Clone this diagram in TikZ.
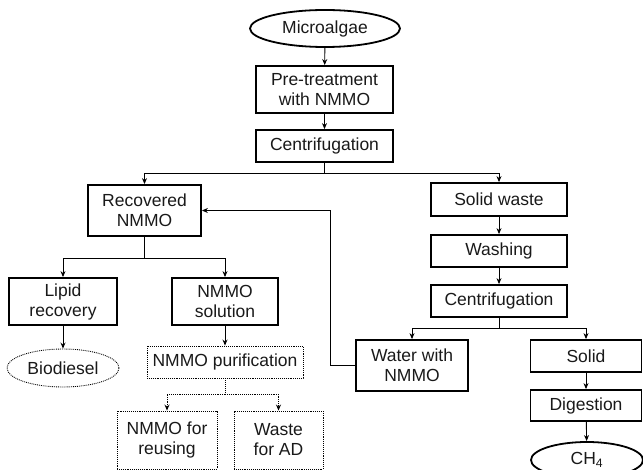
\documentclass[tikz,border=0pt]{standalone}
\usepackage{fontspec}
\setmainfont{Liberation Sans}
\usetikzlibrary{shapes.geometric,arrows.meta}
\begin{document}
\begin{tikzpicture}[x=1pt,y=-1pt,
  every node/.style={font=\fontsize{17.5}{20}\selectfont, align=center, inner sep=0pt, text=black!90},
  box/.style={draw, line width=1.8pt, rectangle},
  dbox/.style={draw, line width=0.9pt, densely dotted, rectangle},
  oval/.style={draw, line width=1.8pt, ellipse},
  doval/.style={draw, line width=0.9pt, densely dotted, ellipse},
  arr/.style={line width=0.9pt, -{Stealth[length=6pt,width=5pt]}},
  darr/.style={line width=0.9pt, densely dotted, -{Stealth[length=6pt,width=5pt]}},
  ln/.style={line width=0.9pt}]
\useasboundingbox (0,0) rectangle (643,470);
\clip (0,0) rectangle (643,470);
% nodes
\node[oval, minimum width=150pt, minimum height=37pt] (micro) at (325,28.5) {Microalgae};
\node[box, minimum width=137pt, minimum height=47pt] (pre) at (324.5,89.5) {Pre-treatment\\with NMMO};
\node[box, minimum width=137pt, minimum height=32pt] (cent1) at (324.5,146) {Centrifugation};
\node[box, minimum width=113pt, minimum height=51pt] (recov) at (144.5,210.5) {Recovered\\NMMO};
\node[box, minimum width=136pt, minimum height=33pt] (solidw) at (499,199.5) {Solid waste};
\node[box, minimum width=136pt, minimum height=32pt] (wash) at (499,251) {Washing};
\node[box, minimum width=136pt, minimum height=32pt] (cent2) at (499,301) {Centrifugation};
\node[box, minimum width=112pt, minimum height=51pt] (water) at (412,365.5) {Water with\\NMMO};
\node[box, minimum width=111pt, minimum height=32pt] (solid) at (586,356) {Solid};
\node[box, minimum width=111pt, minimum height=31pt] (dig) at (586,405.5) {Digestion};
\node[oval, minimum width=112pt, minimum height=36pt] (ch4) at (587,460) {CH\textsubscript{4}};
\node[box, minimum width=108pt, minimum height=47pt] (lipid) at (63,301.5) {Lipid\\recovery};
\node[box, minimum width=106pt, minimum height=47pt] (nsol) at (225,301.5) {NMMO\\solution};
\node[doval, minimum width=112pt, minimum height=38pt] (bio) at (63,368) {Biodiesel};
\node[dbox, minimum width=156pt, minimum height=32pt] (npur) at (225,362) {NMMO purification};
\node[dbox, minimum width=100pt, minimum height=58pt] (reuse) at (167,440) {NMMO for\\reusing};
\node[dbox, minimum width=89pt, minimum height=58pt] (waste) at (278.5,440) {Waste\\for AD};
% branch points
\coordinate (b1) at (324.5,173);
\coordinate (b2) at (499,328);
\coordinate (b3) at (144.5,258);
\coordinate (b4) at (225,394);
\coordinate (fb) at (330,365.5);
% connectors
\draw[arr] (micro) -- (pre);
\draw[arr] (pre) -- (cent1);
\draw[ln] (cent1) -- (b1);
\draw[arr] (b1) -| (recov);
\draw[arr] (b1) -| (solidw);
\draw[arr] (solidw) -- (wash);
\draw[arr] (wash) -- (cent2);
\draw[ln] (cent2) -- (b2);
\draw[arr] (b2) -| (water);
\draw[arr] (b2) -| (solid);
\draw[arr] (solid) -- (dig);
\draw[arr] (dig) -- (ch4);
\draw[arr] (water.west) -- (fb) |- (recov.east);
\draw[ln] (recov) -- (b3);
\draw[arr] (b3) -| (lipid);
\draw[arr] (b3) -| (nsol);
\draw[arr] (lipid) -- (bio);
\draw[arr] (nsol) -- (npur);
\draw[ln, densely dotted] (npur) -- (b4);
\draw[darr] (b4) -| (reuse);
\draw[darr] (b4) -| (waste);
\end{tikzpicture}
\end{document}
